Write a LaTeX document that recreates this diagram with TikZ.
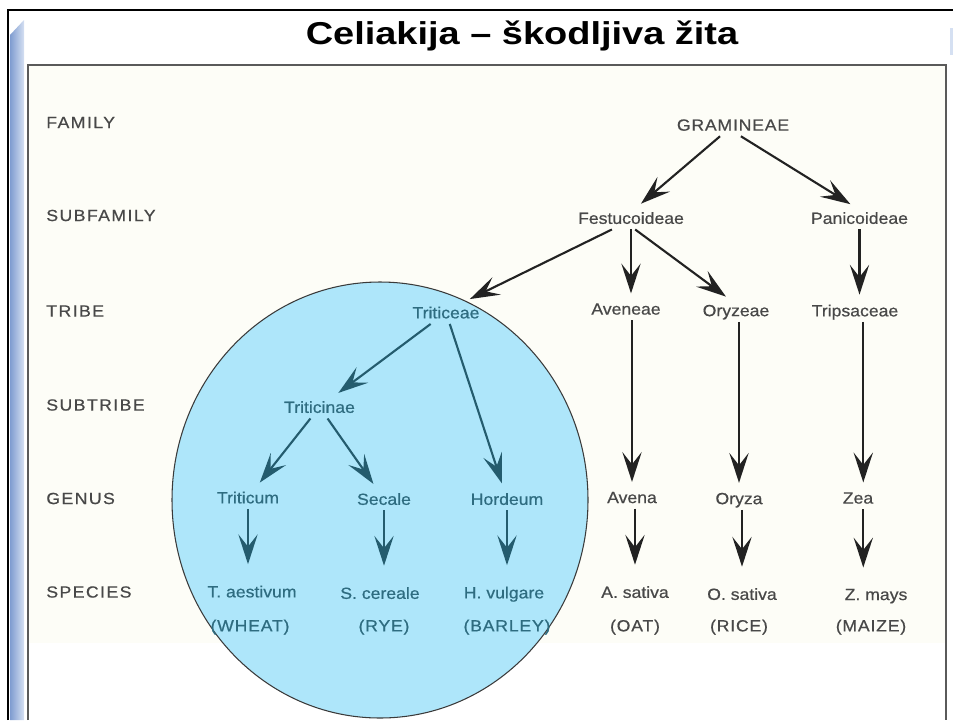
\documentclass[tikz,border=0pt]{standalone}
\usepackage{fontspec}
\setmainfont{Liberation Sans}
\newfontfamily\titlefont[FakeStretch=1.2]{Liberation Sans}
\newfontfamily\treefont[FakeStretch=1.09,FakeBold=0.6]{Liberation Sans}
\newfontfamily\capsfont[FakeStretch=1.09,FakeBold=0.6,LetterSpace=5]{Liberation Sans}
\newfontfamily\rankfont[FakeStretch=1.09,FakeBold=0.6,LetterSpace=9]{Liberation Sans}
\usetikzlibrary{arrows.meta}

\definecolor{cream}{HTML}{FDFDF7}
\definecolor{circleblue}{HTML}{AEE6FA}
\definecolor{circleline}{HTML}{3A3A3A}
\definecolor{labelgray}{HTML}{484848}
\definecolor{arrowdark}{HTML}{222222}
\definecolor{tealtext}{HTML}{2E6C80}
\definecolor{tealarrow}{HTML}{245C6E}
\definecolor{framegray}{HTML}{5A5A5A}
\definecolor{barleft}{HTML}{7F9CD0}
\definecolor{barright}{HTML}{D5E0F2}

\begin{document}
\begin{tikzpicture}[>={Stealth[length=17pt,width=11pt,inset=7pt]},
  rank node/.style={anchor=west,inner sep=0pt,text=labelgray,font=\rankfont\fontsize{9.2}{11}\selectfont},
  taxon node/.style={inner sep=3pt,text depth=0pt,text=labelgray,font=\treefont\fontsize{9.2}{11}\selectfont},
  wheat node/.style={taxon node,text=tealtext},
  arr/.style={every edge/.style={draw=arrowdark,->,line width=1.2pt,shorten >=2.5pt}},
  wheat arr/.style={every edge/.style={draw=tealarrow,->,line width=1.2pt,shorten >=2.5pt}}]

  \useasboundingbox (0,0) rectangle (19.06,-14.4);

  % slide frame
  \fill[cream] (0.56,-1.3) rectangle (18.92,-12.86);
  \shade[left color=barleft,right color=barright] (0.2,-0.7) -- (0.48,-0.4) -- (0.48,-14.4) -- (0.2,-14.4) -- cycle;
  \fill[barright] (19.0,-0.56) rectangle (19.06,-1.1);
  \draw[line width=1.2pt] (0.16,-14.4) -- (0.16,-0.2) -- (19.06,-0.2);
  \draw[framegray,line width=1pt] (0.56,-14.4) -- (0.56,-1.3) -- (18.92,-1.3) -- (18.92,-14.4);

  \node[anchor=base,font=\titlefont\fontsize{18}{21}\selectfont\bfseries] (title) at (10.44,-0.88) {Celiakija – škodljiva žita};

  \draw[fill=circleblue,draw=circleline,line width=0.6pt] (7.6,-10.0) ellipse (4.16 and 4.36);

  \node[rank node] (family) at (0.92,-2.45) {FAMILY};
  \node[rank node] (subfamily) at (0.92,-4.31) {SUBFAMILY};
  \node[rank node] (tribe) at (0.92,-6.22) {TRIBE};
  \node[rank node] (subtribe) at (0.92,-8.1) {SUBTRIBE};
  \node[rank node] (genus) at (0.92,-9.97) {GENUS};
  \node[rank node] (species) at (0.92,-11.84) {SPECIES};

  \node[taxon node] (gram) at (14.66,-2.5) {\capsfont GRAMINEAE};
  \node[taxon node] (fest) at (12.62,-4.36) {Festucoideae};
  \node[taxon node] (pani) at (17.19,-4.36) {Panicoideae};
  \node[wheat node] (trib) at (8.92,-6.25) {Triticeae};
  \node[taxon node] (aven) at (12.52,-6.18) {Aveneae};
  \node[taxon node] (oryz) at (14.72,-6.21) {Oryzeae};
  \node[taxon node] (trip) at (17.1,-6.21) {Tripsaceae};
  \node[wheat node] (tcin) at (6.39,-8.14) {Triticinae};
  \node[wheat node] (ttcm) at (4.96,-9.95) {Triticum};
  \node[wheat node] (secl) at (7.68,-9.98) {Secale};
  \node[wheat node] (hord) at (10.14,-9.98) {Hordeum};
  \node[taxon node] (avna) at (12.64,-9.95) {Avena};
  \node[taxon node] (oza) at (14.78,-9.97) {Oryza};
  \node[taxon node] (zea) at (17.16,-9.96) {Zea};

  \node[wheat node] (aest) at (5.04,-11.83) {T. aestivum};
  \node[wheat node] (cere) at (7.6,-11.86) {S. cereale};
  \node[wheat node] (vulg) at (10.08,-11.85) {H. vulgare};
  \node[taxon node] (sata) at (12.7,-11.84) {A. sativa};
  \node[taxon node] (sato) at (14.84,-11.88) {O. sativa};
  \node[taxon node] (mays) at (17.52,-11.89) {Z. mays};

  \node[wheat node] (wheat) at (5.0,-12.51) {\capsfont (WHEAT)};
  \node[wheat node] (rye) at (7.68,-12.51) {\capsfont (RYE)};
  \node[wheat node] (barley) at (10.14,-12.51) {\capsfont (BARLEY)};
  \node[taxon node] (oat) at (12.7,-12.51) {\capsfont (OAT)};
  \node[taxon node] (rice) at (14.78,-12.51) {\capsfont (RICE)};
  \node[taxon node] (maize) at (17.42,-12.51) {\capsfont (MAIZE)};

  \path[arr]
    (gram.221) edge (fest.60)
    (gram.-55) edge (pani.115)
    (fest.211) edge (trib.30)
    (fest.south) edge (fest.south |- aven.north)
    (fest.-70) edge (oryz.120)
    (pani.south) edge (pani.south |- trip.north)
    (avna.north |- aven.south) edge (avna.north)
    (oza.north |- oryz.south) edge (oza.north)
    ([xshift=3pt]zea.north |- trip.south) edge ([xshift=3pt]zea.north)
    (sata.north |- avna.south) edge[shorten >=9pt] (sata.north)
    (sato.north |- oza.south) edge[shorten >=9pt] (sato.north)
    ([xshift=3pt]zea.south) edge[shorten >=9pt] ([xshift=3pt]zea.south |- mays.north);

  \path[wheat arr]
    (trib) edge (tcin)
    (trib) edge (hord)
    (tcin) edge (ttcm)
    (tcin) edge (secl)
    (ttcm.south) edge[shorten >=9pt] (ttcm.south |- aest.north)
    (secl.south) edge[shorten >=9pt] (secl.south |- cere.north)
    (hord.south) edge[shorten >=9pt] (hord.south |- vulg.north);
\end{tikzpicture}
\end{document}
